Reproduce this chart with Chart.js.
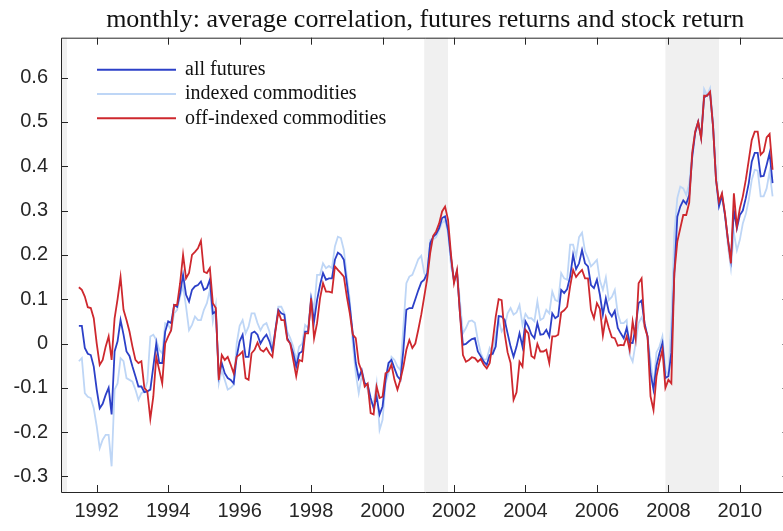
<!DOCTYPE html>
<html lang="en">
<head>
<meta charset="UTF-8">
<title>Average correlation, futures returns and stock return</title>
<script src="https://cdn.jsdelivr.net/npm/chart.js"></script>
<style>
  html, body { margin: 0; padding: 0; background: #fff; overflow: hidden; }
  canvas { display: block; }
</style>
</head>
<body>
<canvas id="corrChart" width="795" height="531"></canvas>
<script>
// monthly series, first observation July 1991
const startYear = 1991;
const startMonth = 7;

const seriesNames = ['all futures', 'indexed commodities', 'off-indexed commodities'];

const allFutures = [
  0.04, 0.04, -0.01, -0.023, -0.026, -0.052, -0.104, -0.146, -0.136, -0.116,
  -0.1, -0.16, -0.018, 0.005, 0.053, 0.02, -0.018, -0.028, -0.052, -0.074,
  -0.097, -0.097, -0.11, -0.108, -0.104, -0.052, 0.0, -0.044, -0.044, 0.027,
  0.05, 0.046, 0.087, 0.083, 0.114, 0.155, 0.11, 0.095, 0.121, 0.129,
  0.132, 0.14, 0.121, 0.125, 0.144, 0.068, 0.072, -0.074, -0.044, -0.067,
  -0.078, -0.082, -0.09, -0.03, 0.005, 0.02, -0.03, -0.03, 0.023, 0.027,
  0.02, 0.0, 0.012, 0.02, 0.005, -0.018, 0.03, 0.076, 0.068, 0.065,
  0.012, 0.0, -0.022, -0.052, -0.022, -0.018, 0.027, 0.027, 0.098, 0.05,
  0.098, 0.132, 0.159, 0.144, 0.147, 0.147, 0.189, 0.205, 0.2, 0.189,
  0.136, 0.083, 0.023, -0.044, -0.078, -0.06, -0.09, -0.093, -0.123, -0.146,
  -0.12, -0.16, -0.142, -0.082, -0.044, -0.037, -0.056, -0.074, -0.082, -0.014,
  0.076, 0.08, 0.08, 0.1, 0.12, 0.138, 0.144, 0.159, 0.226, 0.241,
  0.247, 0.26, 0.283, 0.287, 0.256, 0.193, 0.14, 0.162, 0.068, -0.003,
  -0.001, 0.005, 0.01, 0.012, -0.018, -0.029, -0.041, -0.048, -0.026, -0.023,
  -0.007, 0.062, 0.061, 0.053, 0.023, -0.007, -0.03, -0.007, 0.023, -0.007,
  0.05, 0.038, 0.02, 0.012, 0.046, 0.02, 0.021, 0.031, 0.016, 0.068,
  0.057, 0.062, 0.121, 0.114, 0.123, 0.151, 0.2, 0.168, 0.181, 0.211,
  0.181, 0.174, 0.132, 0.125, 0.144, 0.11, 0.065, 0.102, 0.072, 0.061,
  0.074, 0.035, 0.023, 0.012, 0.035, 0.002, 0.001, 0.038, 0.091, 0.097,
  0.046, 0.016, -0.067, -0.104, -0.05, -0.022, 0.001, -0.078, -0.074, -0.02,
  0.159, 0.286, 0.309, 0.323, 0.315, 0.335, 0.42, 0.475, 0.5, 0.465,
  0.555, 0.56, 0.565, 0.49, 0.37, 0.31, 0.335, 0.29, 0.235, 0.19,
  0.3, 0.26, 0.29, 0.3, 0.328, 0.362, 0.41, 0.43, 0.43, 0.377,
  0.378, 0.403, 0.43, 0.362
];

const indexedComm = [
  -0.04, -0.033, -0.112, -0.12, -0.123, -0.146, -0.187, -0.236, -0.217, -0.206,
  -0.206, -0.277, -0.104, -0.09, -0.033, -0.04, -0.078, -0.082, -0.086, -0.104,
  -0.127, -0.112, -0.108, -0.086, 0.016, 0.02, 0.008, -0.014, -0.022, 0.046,
  0.042, 0.03, 0.068, 0.076, 0.106, 0.129, 0.083, 0.03, 0.042, 0.061,
  0.053, 0.053, 0.076, 0.091, 0.121, 0.05, 0.087, -0.09, -0.06, -0.082,
  -0.104, -0.1, -0.093, 0.0, 0.04, 0.053, 0.023, 0.038, 0.068, 0.068,
  0.046, 0.03, 0.042, 0.046, 0.027, -0.01, 0.03, 0.083, 0.083, 0.068,
  0.027, 0.012, -0.007, -0.037, -0.007, 0.0, 0.042, 0.035, 0.106, 0.076,
  0.155, 0.155, 0.181, 0.17, 0.175, 0.17, 0.219, 0.241, 0.238, 0.211,
  0.151, 0.098, 0.0, -0.067, -0.112, -0.074, -0.09, -0.104, -0.135, -0.135,
  -0.09, -0.195, -0.172, -0.09, -0.067, -0.03, -0.037, -0.052, -0.06, 0.038,
  0.136, 0.151, 0.155, 0.172, 0.19, 0.198, 0.159, 0.144, 0.234, 0.235,
  0.24, 0.256, 0.273, 0.277, 0.249, 0.174, 0.144, 0.165, 0.095, 0.023,
  0.035, 0.05, 0.052, 0.047, 0.008, -0.022, -0.037, -0.035, -0.01, -0.022,
  0.023, 0.053, 0.027, 0.038, 0.068, 0.08, 0.065, 0.07, 0.087, 0.042,
  0.067, 0.057, 0.057, 0.05, 0.095, 0.053, 0.057, 0.076, 0.068, 0.117,
  0.098, 0.095, 0.159, 0.147, 0.144, 0.223, 0.223, 0.196, 0.24, 0.25,
  0.208, 0.193, 0.174, 0.181, 0.189, 0.142, 0.121, 0.149, 0.098, 0.105,
  0.121, 0.067, 0.046, 0.046, 0.053, -0.026, -0.041, 0.001, 0.046, 0.059,
  0.042, 0.016, -0.037, -0.097, -0.02, -0.007, 0.016, -0.061, -0.071, 0.05,
  0.249, 0.328, 0.354, 0.35, 0.335, 0.361, 0.43, 0.48, 0.5, 0.465,
  0.574, 0.56, 0.576, 0.5, 0.38, 0.31, 0.33, 0.29, 0.22, 0.17,
  0.25, 0.21, 0.234, 0.271, 0.292, 0.324, 0.369, 0.392, 0.39, 0.332,
  0.332, 0.35, 0.388, 0.332
];

const offIndexedComm = [
  0.127, 0.121, 0.106, 0.082, 0.08, 0.057, 0.0, -0.048, -0.037, -0.007,
  0.016, -0.037, 0.057, 0.1, 0.15, 0.076, 0.053, 0.027, -0.007, -0.037,
  -0.044, -0.04, -0.1, -0.108, -0.17, -0.12, -0.03, -0.06, -0.09, 0.0,
  0.016, 0.03, 0.087, 0.087, 0.136, 0.2, 0.147, 0.159, 0.2, 0.207,
  0.215, 0.232, 0.162, 0.159, 0.17, 0.091, 0.08, -0.082, -0.026, -0.037,
  -0.03, -0.048, -0.067, -0.03, -0.025, -0.018, -0.078, -0.082, -0.022, -0.014,
  0.002, -0.014, -0.018, -0.01, -0.022, -0.03, 0.027, 0.072, 0.053, 0.053,
  0.008, 0.0, -0.037, -0.074, -0.037, -0.04, 0.023, 0.023, 0.102, 0.012,
  0.046, 0.102, 0.136, 0.117, 0.117, 0.115, 0.174, 0.166, 0.159, 0.151,
  0.106, 0.068, 0.02, 0.012, -0.044, -0.063, -0.097, -0.09, -0.157, -0.16,
  -0.097, -0.123, -0.12, -0.067, -0.063, -0.048, -0.082, -0.104, -0.082, -0.052,
  -0.014, 0.008, -0.01, 0.0, 0.031, 0.065, 0.106, 0.147, 0.204, 0.243,
  0.253, 0.271, 0.298, 0.309, 0.279, 0.2, 0.136, 0.166, 0.068, -0.026,
  -0.041, -0.037, -0.031, -0.033, -0.041, -0.035, -0.048, -0.056, -0.044, 0.005,
  0.06, 0.1, 0.098, 0.023, -0.02, -0.044, -0.127, -0.11, -0.041, -0.052,
  0.031, 0.023, -0.028, -0.033, -0.001, -0.018, -0.018, -0.014, -0.044, 0.016,
  0.016, 0.02, 0.07, 0.075, 0.083, 0.129, 0.166, 0.15, 0.159, 0.166,
  0.147, 0.147, 0.076, 0.057, 0.091, 0.078, 0.018, 0.059, 0.035, 0.014,
  0.012, -0.005, -0.003, -0.004, 0.016, -0.015, 0.05, 0.01, 0.136, 0.147,
  0.038, 0.016, -0.119, -0.15, -0.074, -0.041, -0.014, -0.1, -0.082, -0.09,
  0.159, 0.23, 0.26, 0.29, 0.29, 0.318, 0.43, 0.478, 0.5, 0.463,
  0.559, 0.559, 0.568, 0.49, 0.369, 0.32, 0.339, 0.294, 0.234, 0.181,
  0.339, 0.264, 0.305, 0.332, 0.369, 0.414, 0.459, 0.478, 0.478, 0.426,
  0.433, 0.465, 0.473, 0.392
];

// NBER recessions (decimal years)
const recessionStart = [1990.5, 2001.167, 2007.917];
const recessionEnd = [1991.167, 2001.833, 2009.417];

const xTicks = [1992, 1994, 1996, 1998, 2000, 2002, 2004, 2006, 2008, 2010];
const yTicks = [-0.3, -0.2, -0.1, 0, 0.1, 0.2, 0.3, 0.4, 0.5, 0.6];

function toPoints(values) {
  return values.map((v, i) => ({ x: startYear + (startMonth - 1 + i) / 12, y: v }));
}

const lineColors = ['rgb(44,64,200)', 'rgb(190,214,246)', 'rgb(206,40,46)'];

// grey recession bands behind the lines
const recessionBands = {
  id: 'recessionBands',
  beforeDatasetsDraw(chart) {
    const { ctx, chartArea, scales } = chart;
    ctx.save();
    ctx.fillStyle = '#f0f0f0';
    for (let i = 0; i < recessionStart.length; i++) {
      let x0 = Math.max(scales.x.getPixelForValue(recessionStart[i]), chartArea.left);
      let x1 = Math.min(scales.x.getPixelForValue(recessionEnd[i]), chartArea.right);
      if (x1 > x0) ctx.fillRect(x0, chartArea.top, x1 - x0, chartArea.bottom - chartArea.top);
    }
    ctx.restore();
  }
};

// matlab style box with inward ticks, plus legend in the top left corner
const boxAndLegend = {
  id: 'boxAndLegend',
  afterDraw(chart) {
    const { ctx, chartArea, scales } = chart;
    const { left, right, top, bottom } = chartArea;
    const len = 7;
    ctx.save();
    ctx.strokeStyle = '#262626';
    ctx.lineWidth = 1;
    ctx.beginPath();
    ctx.rect(left + 0.5, top + 0.5, right - left, bottom - top);
    xTicks.forEach(t => {
      const px = Math.round(scales.x.getPixelForValue(t)) + 0.5;
      ctx.moveTo(px, bottom); ctx.lineTo(px, bottom - len);
      ctx.moveTo(px, top); ctx.lineTo(px, top + len);
    });
    yTicks.forEach(t => {
      const py = Math.round(scales.y.getPixelForValue(t)) + 0.5;
      ctx.moveTo(left, py); ctx.lineTo(left + len, py);
      ctx.moveTo(right, py); ctx.lineTo(right - len, py);
    });
    ctx.stroke();

    // legend
    ctx.font = '20px "Liberation Serif"';
    ctx.textBaseline = 'middle';
    ctx.fillStyle = '#111';
    seriesNames.forEach((name, i) => {
      const y = top + 32 + i * 24.3;
      ctx.strokeStyle = lineColors[i];
      ctx.lineWidth = 2;
      ctx.beginPath();
      ctx.moveTo(left + 36, y);
      ctx.lineTo(left + 115, y);
      ctx.stroke();
      ctx.fillText(name, left + 124, y);
    });
    ctx.restore();
  }
};

const ctx = document.getElementById('corrChart').getContext('2d');
const myChart = new Chart(ctx, {
  type: 'line',
  data: {
    datasets: [
      { label: seriesNames[0], data: toPoints(allFutures), borderColor: lineColors[0], order: 1 },
      { label: seriesNames[1], data: toPoints(indexedComm), borderColor: lineColors[1], order: 2 },
      { label: seriesNames[2], data: toPoints(offIndexedComm), borderColor: lineColors[2], order: 0 }
    ]
  },
  options: {
    responsive: false,
    animation: false,
    parsing: false,
    elements: {
      line: { borderWidth: 1.8, tension: 0 },
      point: { radius: 0 }
    },
    layout: { padding: { left: 0, right: 5.5, top: 0, bottom: 0 } },
    plugins: {
      legend: { display: false },
      tooltip: { enabled: false },
      title: {
        display: true,
        fullSize: false,
        text: 'monthly: average correlation, futures returns and stock return',
        color: '#111',
        font: { family: '"Liberation Serif"', size: 26, weight: 'normal', lineHeight: 1.2 },
        padding: { top: 4.5, bottom: 2 }
      }
    },
    scales: {
      x: {
        type: 'linear',
        min: 1991,
        max: 2011.39,
        grid: { display: false, drawTicks: false },
        border: { display: false },
        afterBuildTicks: scale => { scale.ticks = xTicks.map(v => ({ value: v })); },
        afterFit: scale => { scale.height = 39; },
        ticks: {
          padding: 7,
          color: '#262626',
          font: { family: '"Liberation Sans"', size: 20 },
          maxRotation: 0,
          callback: v => String(v)
        }
      },
      y: {
        min: -0.335,
        max: 0.69,
        grid: { display: false, drawTicks: false },
        border: { display: false },
        afterBuildTicks: scale => { scale.ticks = yTicks.map(v => ({ value: v })); },
        afterFit: scale => { scale.width = 61; },
        ticks: {
          padding: 13,
          color: '#262626',
          font: { family: '"Liberation Sans"', size: 20 },
          callback: v => (Math.abs(v) < 1e-9 ? '0' : v.toFixed(1))
        }
      }
    }
  },
  plugins: [recessionBands, boxAndLegend]
});
</script>
</body>
</html>
